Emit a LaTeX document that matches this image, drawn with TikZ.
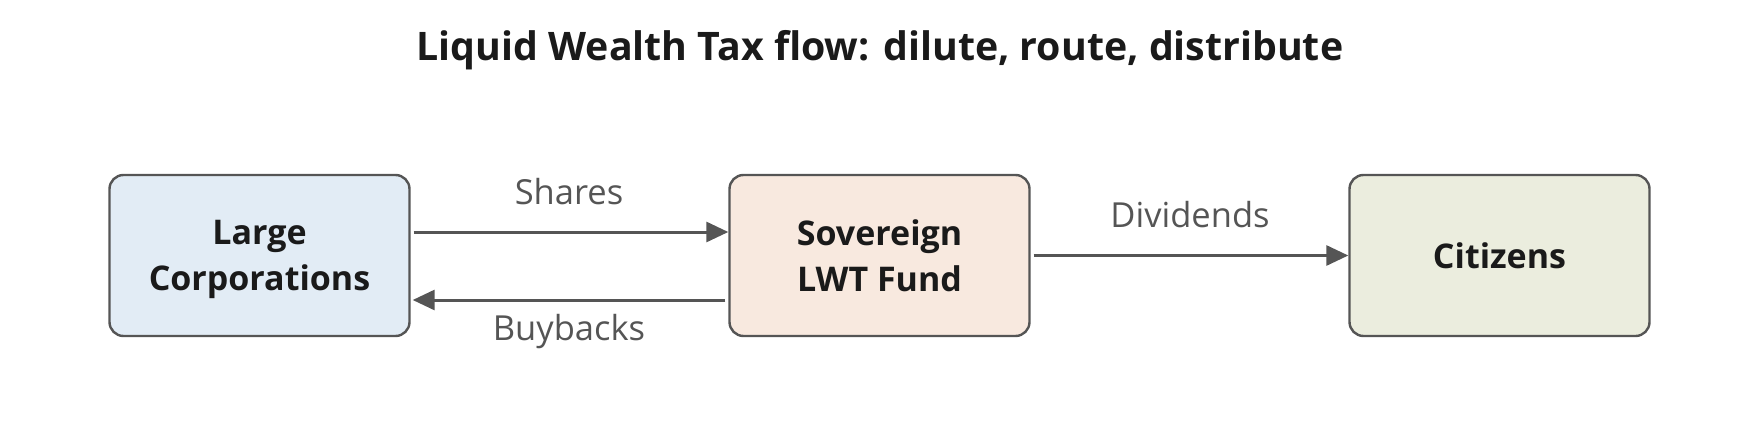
\documentclass[tikz,border=0pt]{standalone}
\usepackage{fontspec}
\setmainfont{Open Sans}
\usetikzlibrary{arrows.meta}
\definecolor{edgegray}{HTML}{555555}
\definecolor{inkdark}{HTML}{1A1A1A}
\definecolor{corpblue}{HTML}{E2ECF5}
\definecolor{fundpeach}{HTML}{F8E9DF}
\definecolor{citgreen}{HTML}{EBEDDE}
\tikzset{
  entity/.style={draw=edgegray, line width=2.4pt, rounded corners=14pt,
    minimum width=300pt, minimum height=161pt, align=center, text=inkdark,
    text depth=0pt, font=\fontsize{34}{46}\selectfont\bfseries},
  flow/.style={draw=edgegray, line width=3pt, -{Triangle[length=22pt,width=20pt]}},
  flowlabel/.style={text=edgegray, font=\fontsize{34.5}{40}\selectfont}
}

\begin{document}
\begin{tikzpicture}[x=1pt,y=-1pt]
\useasboundingbox (0,0) rectangle (1760,420);
\node[font=\fontsize{39.3}{46}\selectfont\bfseries, text=inkdark] (title) at (880,50) {Liquid Wealth Tax flow: dilute, route, distribute};
\node[entity, fill=corpblue] (corp) at (259.5,255.5) {Large\\Corporations};
\node[entity, fill=fundpeach] (fund) at (879.5,255.5) {Sovereign\\LWT Fund};
\node[entity, fill=citgreen] (cit) at (1499.5,255.5) {Citizens};
\draw[flow] ([xshift=3pt]corp.east |- 0,232) -- (fund.west |- 0,232);
\draw[flow] ([xshift=-3pt]fund.west |- 0,300) -- ([xshift=2pt]corp.east |- 0,300);
\draw[flow] ([xshift=3pt]fund.east) -- (cit.west);
\node[flowlabel] (shares) at (569,192) {Shares};
\node[flowlabel] (buybacks) at (569,332) {Buybacks};
\node[flowlabel] (dividends) at (1190,215) {Dividends};
\end{tikzpicture}
\end{document}
